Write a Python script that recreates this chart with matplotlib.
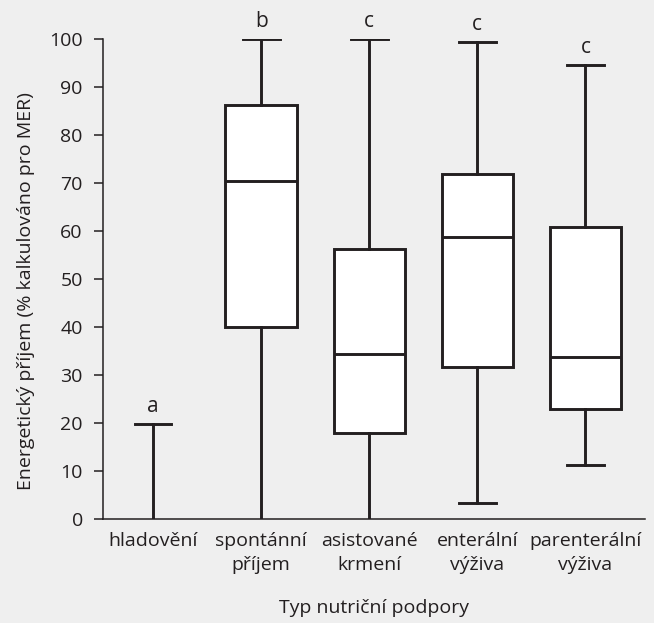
import matplotlib
matplotlib.use('Agg')
import matplotlib.pyplot as plt

# box data (% of MER)
categories = ['hladovění', 'spontánní\npříjem', 'asistované\nkrmení', 'enterální\nvýživa', 'parenterální\nvýživa']
whisker_low = [0, 0, 0, 3.3, 11.3]
q1 = [0, 40.0, 18.0, 31.8, 22.9]
medians = [0, 70.5, 34.5, 58.7, 33.9]
q3 = [0, 86.2, 56.3, 71.9, 60.8]
whisker_high = [19.9, 100, 100, 99.4, 94.6]
letters = ['a', 'b', 'c', 'c', 'c']

ink = '#231f20'
plt.rcParams['font.family'] = ['Open Sans', 'DejaVu Sans']

fig = plt.figure(figsize=(6.54, 6.23), dpi=100)
fig.patch.set_facecolor('#efefef')
ax = fig.add_axes([0.1575, 0.1665, 0.8285, 0.7705])
ax.patch.set_alpha(0)

stats = []
for i in range(len(categories)):
    stats.append({'whislo': whisker_low[i], 'q1': q1[i], 'med': medians[i],
                  'q3': q3[i], 'whishi': whisker_high[i], 'fliers': []})

pos = list(range(1, len(categories) + 1))
bp = ax.bxp(stats, positions=pos, widths=0.66, capwidths=0.34, patch_artist=True,
            showfliers=False,
            boxprops=dict(facecolor='white', edgecolor=ink, linewidth=2.1),
            medianprops=dict(color=ink, linewidth=2.1),
            whiskerprops=dict(color=ink, linewidth=2.1),
            capprops=dict(color=ink, linewidth=2.1))

# empty boxes / caps lying on the axis are not drawn
for i in range(len(categories)):
    if q3[i] == q1[i]:
        bp['boxes'][i].set_visible(False)
        bp['medians'][i].set_visible(False)
    if whisker_low[i] == 0:
        bp['caps'][2 * i].set_visible(False)

for p, top, lab in zip(pos, whisker_high, letters):
    ax.text(p, top + 1.5, lab, ha='center', va='bottom', fontsize=15, color=ink, clip_on=False)

ax.set_xlim(0.537, 5.55)
ax.set_ylim(0, 100)
ax.set_yticks(range(0, 101, 10))
ax.set_xticks(pos)
ax.set_xticklabels(categories, fontsize=14, color=ink, linespacing=1.45)
ax.tick_params(axis='x', length=0, pad=9)
ax.tick_params(axis='y', length=6.5, width=1.1, color=ink, labelsize=14, labelcolor=ink, pad=8)
for s in ['top', 'right']:
    ax.spines[s].set_visible(False)
for s in ['left', 'bottom']:
    ax.spines[s].set_color(ink)
    ax.spines[s].set_linewidth(1.1)

ax.set_xlabel('Typ nutriční podpory', fontsize=14, color=ink, labelpad=18)
ax.set_ylabel('Energetický příjem (% kalkulováno pro MER)', fontsize=14, color=ink, labelpad=10, y=0.476)

fig.savefig('out.png', dpi=100, facecolor=fig.get_facecolor())
